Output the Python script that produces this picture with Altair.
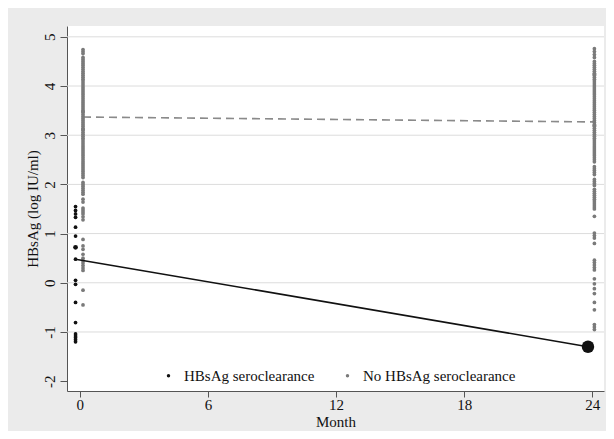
import altair as alt
import pandas as pd

groups = ["HBsAg seroclearance", "No HBsAg seroclearance"]

# --- HBsAg seroclearance group (black) ---
clear_m0_x = -0.2
clear_m0_y = [1.55, 1.47, 1.40, 1.33, 1.13, 0.95, 0.72, 0.48, 0.05, -0.03,
              -0.40, -0.81, -1.04, -1.08, -1.12, -1.16, -1.20]
clear_m0_n = [1, 1, 1, 1, 1, 1, 2, 1, 1, 1, 1, 1, 1, 1, 1, 1, 1]
clear_m24_x = 23.8
clear_m24_y = [-1.30]
clear_m24_n = [17]

# --- No HBsAg seroclearance group (grey) ---
no_m0_x = 0.15
no_m0_y = [4.74, 4.70, 4.66, 4.58, 4.54, 4.50, 4.46, 4.42, 4.38, 4.34, 4.30,
           4.26, 4.22, 4.18, 4.14, 4.10, 4.06, 4.02, 3.98, 3.94, 3.90, 3.86,
           3.82, 3.78, 3.74, 3.70, 3.66, 3.62, 3.58, 3.54, 3.50, 3.48, 3.46,
           3.42, 3.38, 3.34, 3.30, 3.26, 3.22, 3.18, 3.14, 3.12, 3.10, 3.06,
           3.02, 2.98, 2.94, 2.90, 2.86, 2.82, 2.78, 2.74, 2.70, 2.66, 2.62,
           2.58, 2.54, 2.50, 2.46, 2.42, 2.38, 2.34, 2.30, 2.26, 2.22, 2.18,
           2.14, 2.04, 2.00, 1.96, 1.92, 1.88, 1.84, 1.80, 1.70, 1.64, 1.52,
           1.48, 1.44, 1.40, 1.34, 1.28, 0.88, 0.75, 0.68, 0.58, 0.50, 0.45,
           0.40, 0.35, 0.30, 0.25, -0.15, -0.45]
no_m24_x = 24.1
no_m24_y = [4.76, 4.70, 4.64, 4.58, 4.50, 4.46, 4.42, 4.38, 4.34, 4.30, 4.26,
            4.24, 4.22, 4.18, 4.14, 4.10, 4.06, 4.02, 3.98, 3.94, 3.90, 3.86,
            3.82, 3.78, 3.74, 3.70, 3.66, 3.62, 3.58, 3.54, 3.50, 3.46, 3.42,
            3.38, 3.34, 3.30, 3.26, 3.22, 3.20, 3.18, 3.14, 3.10, 3.06, 3.02,
            2.98, 2.94, 2.90, 2.86, 2.82, 2.78, 2.74, 2.70, 2.66, 2.62, 2.58,
            2.54, 2.50, 2.46, 2.36, 2.32, 2.28, 2.24, 2.20, 2.10, 2.06, 2.02,
            1.98, 1.90, 1.86, 1.82, 1.78, 1.74, 1.70, 1.66, 1.62, 1.58, 1.54,
            1.50, 1.35, 1.01, 0.96, 0.91, 0.80, 0.46, 0.41, 0.36, 0.31, 0.26,
            0.08, -0.02, -0.12, -0.22, -0.40, -0.55, -0.85, -0.90, -0.95]

# --- group means (lines) ---
clear_line_x = [-0.2, 23.8]
clear_line_y = [0.48, -1.30]
no_line_x = [0.15, 24.1]
no_line_y = [3.37, 3.27]

# axis ticks / gridlines
x_ticks = [0, 6, 12, 18, 24]
y_ticks = [-2, -1, 0, 1, 2, 3, 4, 5]
grid_y = [-1, 0, 1, 2, 3, 4, 5]

rows = []
for y in no_m0_y:
    rows.append({"month": no_m0_x, "hbsag": y, "n": 1, "group": groups[1]})
for y in no_m24_y:
    rows.append({"month": no_m24_x, "hbsag": y, "n": 1, "group": groups[1]})
for y, n in zip(clear_m0_y, clear_m0_n):
    rows.append({"month": clear_m0_x, "hbsag": y, "n": n, "group": groups[0]})
for y, n in zip(clear_m24_y, clear_m24_n):
    rows.append({"month": clear_m24_x, "hbsag": y, "n": n, "group": groups[0]})
pts = pd.DataFrame(rows)

FONT = "Liberation Serif"
xscale = alt.Scale(domain=[-0.6, 24.55], nice=False, zero=False)
yscale = alt.Scale(domain=[-2.2, 5.22], nice=False, zero=False)

xaxis = alt.Axis(values=x_ticks, title="Month", grid=False, domainColor="#555555",
                 tickColor="#555555", tickSize=6, labelPadding=0, labelFont=FONT,
                 labelFontSize=15, labelColor="#111111", titleFont=FONT,
                 titleFontSize=15, titleFontWeight="normal", titleColor="#111111",
                 titleY=35, titleBaseline="alphabetic",
                 labelExpr="'' + datum.value")
yaxis = alt.Axis(values=y_ticks, title="HBsAg (log IU/ml)", grid=False,
                 domainColor="#555555", tickColor="#555555", tickSize=7,
                 labelPadding=3, labelAngle=270, labelAlign="center",
                 labelBaseline="bottom", labelFont=FONT, labelFontSize=15,
                 labelColor="#111111", titleFont=FONT, titleFontSize=15,
                 titleFontWeight="normal", titleColor="#111111", titlePadding=2,
                 labelExpr="'' + datum.value")

grid = alt.Chart(pd.DataFrame({"hbsag": grid_y})).mark_rule(
    color="#dcdcdc", strokeWidth=1
).encode(y=alt.Y("hbsag:Q", scale=yscale, axis=yaxis))

dashed = alt.Chart(pd.DataFrame({"month": no_line_x, "hbsag": no_line_y})).mark_line(
    color="#8a8a8a", strokeWidth=1.6, strokeDash=[8, 5]
).encode(x=alt.X("month:Q", scale=xscale, axis=xaxis), y=alt.Y("hbsag:Q", scale=yscale))

points = alt.Chart(pts).mark_circle(opacity=1).encode(
    x=alt.X("month:Q", scale=xscale),
    y=alt.Y("hbsag:Q", scale=yscale),
    color=alt.Color("group:N",
                    scale=alt.Scale(domain=groups, range=["#111111", "#7a7a7a"]),
                    legend=alt.Legend(title=None, orient="none", legendX=94,
                                      legendY=342, direction="horizontal",
                                      symbolType="circle", symbolSize=12,
                                      labelFont=FONT, labelFontSize=15,
                                      labelColor="#111111", labelOffset=8,
                                      columnPadding=25, padding=0)),
    size=alt.Size("n:Q", scale=alt.Scale(type="linear", domain=[1, 17], range=[14, 155]),
                  legend=None),
)

solid = alt.Chart(pd.DataFrame({"month": clear_line_x, "hbsag": clear_line_y})).mark_line(
    color="#111111", strokeWidth=1.6
).encode(x=alt.X("month:Q", scale=xscale), y=alt.Y("hbsag:Q", scale=yscale))

chart = alt.layer(grid, dashed, points, solid).properties(
    width=537, height=365,
    autosize=alt.AutoSizeParams(type="none"),
    padding={"left": 59, "top": 18, "right": 2, "bottom": 40},
    background="#ebebeb",
).configure_view(fill="white", strokeWidth=0)

chart.save("out.html", embed_options={"renderer": "svg", "actions": False})
